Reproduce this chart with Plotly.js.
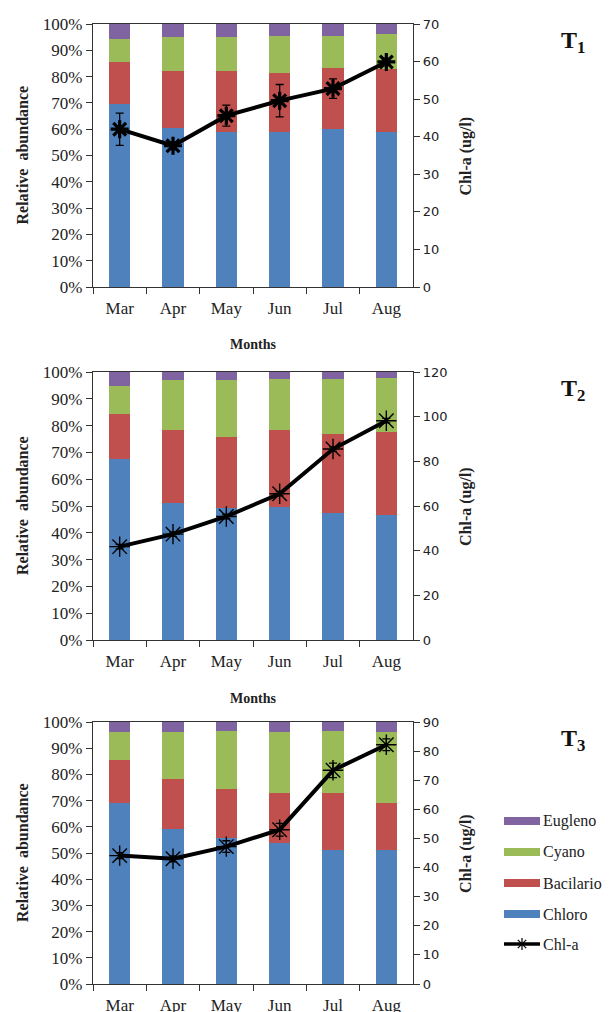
<!DOCTYPE html>
<html>
<head>
<meta charset="utf-8">
<script src="https://cdn.plot.ly/plotly-3.0.1.min.js"></script>
<style>
  html, body { margin: 0; padding: 0; background: #ffffff; }
  #chart { width: 611px; height: 1012px; }
</style>
</head>
<body>
<div id="chart"></div>
<script>
// ---------------- DATA ----------------
const months = ['Mar', 'Apr', 'May', 'Jun', 'Jul', 'Aug'];
const groupNames = ['Chloro', 'Bacilario', 'Cyano', 'Eugleno'];

// Relative abundance (%) of each group, stacked bottom to top
const chloroT1    = [69.5, 60.6, 59.1, 59.1, 60.1, 59.1];
const bacilarioT1 = [16.2, 21.5, 23.0, 22.4, 23.3, 23.7];
const cyanoT1     = [ 8.7, 13.0, 13.0, 14.1, 12.2, 13.4];
const euglenoT1   = [ 5.6,  4.9,  4.9,  4.4,  4.4,  3.8];

const chloroT2    = [67.6, 51.3, 49.2, 49.8, 47.3, 46.6];
const bacilarioT2 = [16.9, 27.1, 26.6, 28.6, 29.6, 31.2];
const cyanoT2     = [10.2, 18.5, 21.1, 19.0, 20.5, 20.1];
const euglenoT2   = [ 5.3,  3.1,  3.1,  2.6,  2.6,  2.1];

const chloroT3    = [69.2, 59.2, 55.9, 53.8, 51.2, 51.2];
const bacilarioT3 = [16.4, 19.0, 18.6, 19.2, 21.8, 18.0];
const cyanoT3     = [10.4, 17.8, 22.1, 23.0, 23.6, 26.8];
const euglenoT3   = [ 4.0,  4.0,  3.4,  4.0,  3.4,  4.0];

// Chl-a (ug/l) with error
const chlaT1    = [42.0, 37.6, 45.6, 49.6, 52.8, 59.9];
const chlaErrT1 = [ 4.3,  1.0,  2.8,  4.3,  2.6,  1.0];
const chlaT2    = [41.8, 47.4, 55.3, 65.5, 85.5, 98.2];
const chlaErrT2 = [ 1.0,  1.0,  1.0,  1.0,  1.0,  1.0];
const chlaT3    = [44.1, 43.0, 47.2, 53.0, 73.4, 82.2];
const chlaErrT3 = [ 1.0,  1.0,  2.0,  2.2,  2.5,  2.0];

const chlaMax = [70, 120, 90];
const panelLabels = ['1', '2', '3'];

// ---------------- STYLE ----------------
const W = 611, H = 1012;
const colors = { Chloro: '#4F81BD', Bacilario: '#C0504D', Cyano: '#9BBB59', Eugleno: '#8064A2' };
const serif = 'Liberation Serif, Times New Roman, serif';
const sans = 'DejaVu Sans, Verdana, sans-serif';
const px = v => v / W;
const py = v => 1 - v / H;

// panel vertical pixel extents (top, bottom)
const panels = [
  { top: 24,  bottom: 287, chlaMarker: { size: 15, width: 3.2 }, months: true },
  { top: 372, bottom: 640, chlaMarker: { size: 17, width: 1.4 }, months: true },
  { top: 722, bottom: 984, chlaMarker: { size: 17, width: 1.4 }, months: false }
];
const plotL = 93, plotR = 413;

const abundance = [
  [chloroT1, bacilarioT1, cyanoT1, euglenoT1],
  [chloroT2, bacilarioT2, cyanoT2, euglenoT2],
  [chloroT3, bacilarioT3, cyanoT3, euglenoT3]
];
const chla = [chlaT1, chlaT2, chlaT3];
const chlaErr = [chlaErrT1, chlaErrT2, chlaErrT3];

const traces = [];
const layout = {
  width: W, height: H,
  margin: { l: 0, r: 0, t: 0, b: 0, autoexpand: false },
  paper_bgcolor: '#ffffff', plot_bgcolor: '#ffffff',
  barmode: 'stack',
  bargap: 0.6,
  showlegend: false,
  font: { family: serif, color: '#222' },
  annotations: [],
  shapes: []
};

panels.forEach((p, i) => {
  const n = i + 1;
  const xa = n === 1 ? 'x' : 'x' + n;
  const yL = n === 1 ? 'y' : 'y' + (2 * n - 1);
  const yR = 'y' + (2 * n);
  const xKey = n === 1 ? 'xaxis' : 'xaxis' + n;
  const yLKey = n === 1 ? 'yaxis' : 'yaxis' + (2 * n - 1);
  const yRKey = 'yaxis' + (2 * n);

  groupNames.forEach((g, k) => {
    traces.push({
      type: 'bar', name: g, x: months, y: abundance[i][k],
      xaxis: xa, yaxis: yL,
      marker: { color: colors[g], line: { width: 0 } },
      hoverinfo: 'skip'
    });
  });
  traces.push({
    type: 'scatter', mode: 'lines+markers', name: 'Chl-a',
    x: months, y: chla[i], xaxis: xa, yaxis: yR,
    line: { color: '#000', width: 4 },
    marker: { symbol: 'asterisk-open', size: p.chlaMarker.size, color: '#000',
              line: { color: '#000', width: p.chlaMarker.width } },
    error_y: { type: 'data', array: chlaErr[i], visible: true, color: '#000', thickness: 1.3, width: 4 },
    hoverinfo: 'skip'
  });

  const dom = [py(p.bottom), py(p.top)];
  layout[xKey] = {
    domain: [px(plotL), px(plotR)], anchor: yL, type: 'category',
    tickson: 'boundaries', ticks: 'outside', ticklen: 6, tickwidth: 1, tickcolor: '#333',
    showline: true, linecolor: '#333', linewidth: 1.2, mirror: true,
    showgrid: false, zeroline: false,
    tickfont: { family: serif, size: 17, color: '#222' },
    ticklabelstandoff: 5,
    fixedrange: true
  };
  layout[yLKey] = {
    domain: dom, anchor: xa, range: [0, 100], dtick: 10, ticksuffix: '%',
    ticks: 'outside', ticklen: 6, tickcolor: '#333', showline: true, linecolor: '#333', linewidth: 1.2,
    showgrid: false, zeroline: false,
    tickfont: { family: serif, size: 17, color: '#222' },
    fixedrange: true
  };
  layout[yRKey] = {
    domain: dom, anchor: xa, overlaying: yL, side: 'right',
    range: [0, chlaMax[i]], dtick: (chlaMax[i] === 120 ? 20 : 10),
    ticks: 'outside', ticklen: 6, tickcolor: '#333', showline: true, linecolor: '#333', linewidth: 1.2,
    showgrid: false, zeroline: false,
    tickfont: { family: sans, size: 13, color: '#222' },
    fixedrange: true
  };

  const midY = py((p.top + p.bottom) / 2);
  layout.annotations.push({
    xref: 'paper', yref: 'paper', x: px(22), y: midY, textangle: -90,
    text: '<b>Relative  abundance</b>', showarrow: false,
    font: { family: serif, size: 16, color: '#222' }, xanchor: 'center', yanchor: 'middle'
  });
  layout.annotations.push({
    xref: 'paper', yref: 'paper', x: px(466), y: midY, textangle: -90,
    text: '<b>Chl-a (ug/l)</b>', showarrow: false,
    font: { family: serif, size: 16, color: '#222' }, xanchor: 'center', yanchor: 'middle'
  });
  layout.annotations.push({
    xref: 'paper', yref: 'paper', x: px(573), y: py(p.top + 18),
    text: '<b>T<sub>' + panelLabels[i] + '</sub></b>', showarrow: false,
    font: { family: serif, size: 24, color: '#111' }, xanchor: 'center', yanchor: 'middle'
  });
  if (p.months) {
    layout.annotations.push({
      xref: 'paper', yref: 'paper', x: px((plotL + plotR) / 2), y: py(p.bottom + 58),
      text: '<b>Months</b>', showarrow: false,
      font: { family: serif, size: 14, color: '#222' }, xanchor: 'center', yanchor: 'middle'
    });
  }
});

// ---------------- LEGEND (drawn as decoration) ----------------
const legendItems = ['Eugleno', 'Cyano', 'Bacilario', 'Chloro'];
const legRowY = [821, 852, 883, 914];
const swL = 504, swR = 540;
legendItems.forEach((g, k) => {
  layout.shapes.push({
    type: 'rect', xref: 'paper', yref: 'paper',
    x0: px(swL), x1: px(swR), y0: py(legRowY[k] + 4), y1: py(legRowY[k] - 4),
    fillcolor: colors[g], line: { width: 0 }
  });
  layout.annotations.push({
    xref: 'paper', yref: 'paper', x: px(swR + 1), y: py(legRowY[k]),
    text: g, showarrow: false, xanchor: 'left', yanchor: 'middle',
    font: { family: serif, size: 16, color: '#222' }
  });
});
const chlRowY = 944;
layout.shapes.push({
  type: 'line', xref: 'paper', yref: 'paper',
  x0: px(swL), x1: px(swR), y0: py(chlRowY), y1: py(chlRowY),
  line: { color: '#000', width: 3.5 }
});
// small asterisk glyph for the legend symbol
(function () {
  const cx = (swL + swR) / 2, cy = chlRowY, r = 6;
  const segs = [[-r, 0, r, 0], [0, -r, 0, r], [-r * 0.7, -r * 0.7, r * 0.7, r * 0.7], [-r * 0.7, r * 0.7, r * 0.7, -r * 0.7]];
  segs.forEach(s => {
    layout.shapes.push({
      type: 'line', xref: 'paper', yref: 'paper',
      x0: px(cx + s[0]), y0: py(cy + s[1]), x1: px(cx + s[2]), y1: py(cy + s[3]),
      line: { color: '#000', width: 1.2 }
    });
  });
})();
layout.annotations.push({
  xref: 'paper', yref: 'paper', x: px(swR + 1), y: py(chlRowY),
  text: 'Chl-a', showarrow: false, xanchor: 'left', yanchor: 'middle',
  font: { family: serif, size: 16, color: '#222' }
});

Plotly.newPlot('chart', traces, layout, { staticPlot: true, displayModeBar: false });
</script>
</body>
</html>
